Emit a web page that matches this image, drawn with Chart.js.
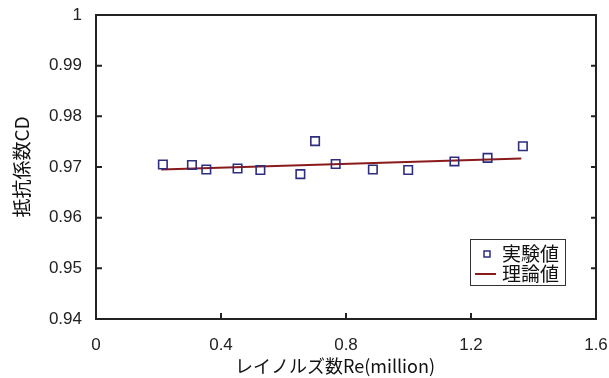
<!DOCTYPE html>
<html>
<head>
<meta charset="utf-8">
<script src="https://cdn.jsdelivr.net/npm/chart.js@4.4.0/dist/chart.umd.min.js"></script>
<style>
  html, body { margin: 0; padding: 0; background: #fff; }
  #wrap { width: 609px; height: 378px; }
</style>
</head>
<body>
<div id="wrap"><canvas id="cdChart" width="609" height="378"></canvas></div>
<script>
// 実験値 (Re in million, CD)
const reynolds = [0.214, 0.307, 0.353, 0.453, 0.526, 0.654, 0.701, 0.767, 0.886, 0.999, 1.147, 1.253, 1.366];
const cdMeasured = [0.9705, 0.9704, 0.9695, 0.9697, 0.9694, 0.9686, 0.9751, 0.9706, 0.9695, 0.9694, 0.9711, 0.9718, 0.9741];

// 理論値
const theoryRe = [0.209, 1.361];
const theoryCd = [0.9695, 0.9717];

const xTicks = [0, 0.4, 0.8, 1.2, 1.6];
const yTicks = [0.94, 0.95, 0.96, 0.97, 0.98, 0.99, 1];

const seriesNames = ['実験値', '理論値'];
const xTitle = 'レイノルズ数Re(million)';
const yTitle = '抵抗係数CD';

const tickFont = { family: '"Liberation Sans", Arial, sans-serif', size: 17 };
const jpFont = '"Noto Sans CJK JP", sans-serif';
const frameColor = '#222';

// frame + inward tick marks
const framePlugin = {
    id: 'frame',
    afterDraw(chart) {
        const { ctx, chartArea: a, scales } = chart;
        ctx.save();
        ctx.strokeStyle = frameColor;
        ctx.lineWidth = 2;
        ctx.strokeRect(a.left, a.top, a.right - a.left, a.bottom - a.top);
        ctx.beginPath();
        xTicks.slice(1, -1).forEach(v => {
            const x = scales.x.getPixelForValue(v);
            ctx.moveTo(x, a.bottom);
            ctx.lineTo(x, a.bottom - 6);
        });
        yTicks.slice(1, -1).forEach(v => {
            const y = scales.y.getPixelForValue(v);
            ctx.moveTo(a.left, y);
            ctx.lineTo(a.left + 6, y);
            ctx.moveTo(a.right, y);
            ctx.lineTo(a.right - 5, y);
        });
        ctx.stroke();

        // x axis title sits a little left of the plot centre
        ctx.fillStyle = '#111';
        ctx.font = '18px ' + jpFont;
        ctx.textAlign = 'center';
        ctx.textBaseline = 'middle';
        ctx.fillText(xTitle, (a.left + a.right) / 2 - 11, 366);
        ctx.restore();
    }
};

// legend box inside the plot
const boxLegend = {
    id: 'boxLegend',
    afterDraw(chart) {
        const { ctx } = chart;
        const ds = chart.data.datasets;
        const bx = 470.5, by = 239.5, bw = 95, bh = 46;
        ctx.save();
        ctx.fillStyle = '#fff';
        ctx.fillRect(bx, by, bw, bh);
        ctx.strokeStyle = '#333';
        ctx.lineWidth = 1;
        ctx.strokeRect(bx, by, bw, bh);

        // marker
        ctx.strokeStyle = ds[0].borderColor;
        ctx.lineWidth = 1.5;
        ctx.strokeRect(484, 251, 6, 6);
        // line
        ctx.strokeStyle = ds[1].borderColor;
        ctx.lineWidth = 2;
        ctx.beginPath();
        ctx.moveTo(475, 274);
        ctx.lineTo(496, 274);
        ctx.stroke();

        ctx.fillStyle = '#111';
        ctx.font = '19px ' + jpFont;
        ctx.textBaseline = 'middle';
        ctx.fillText(ds[0].label, 502, 254);
        ctx.fillText(ds[1].label, 502, 274);
        ctx.restore();
    }
};

new Chart(document.getElementById('cdChart'), {
    type: 'scatter',
    data: {
        datasets: [
            {
                label: seriesNames[0],
                data: reynolds.map((r, i) => ({ x: r, y: cdMeasured[i] })),
                pointStyle: 'rect',
                pointRadius: 6,
                pointHoverRadius: 6,
                pointBorderWidth: 1.6,
                borderColor: '#2e2e7e',
                backgroundColor: 'rgba(255,255,255,0)',
                showLine: false,
                order: 1
            },
            {
                label: seriesNames[1],
                data: theoryRe.map((r, i) => ({ x: r, y: theoryCd[i] })),
                showLine: true,
                borderColor: '#8b1a1a',
                borderWidth: 2,
                pointRadius: 0,
                order: 2
            }
        ]
    },
    options: {
        responsive: false,
        animation: false,
        devicePixelRatio: 1,
        layout: { padding: { top: 15, right: 13, left: 0, bottom: 0 } },
        plugins: {
            legend: { display: false },
            tooltip: { enabled: false }
        },
        scales: {
            x: {
                type: 'linear',
                min: 0,
                max: 1.6,
                afterBuildTicks: s => { s.ticks = xTicks.map(v => ({ value: v })); },
                afterFit: s => {
                    s.height = 59;
                    s.paddingLeft = 0;
                    s.paddingRight = 0;
                },
                grid: { display: false, drawTicks: false },
                border: { display: false },
                ticks: {
                    font: tickFont,
                    color: '#222',
                    padding: 16,
                    maxRotation: 0,
                    callback: v => String(v)
                },
                title: { display: false }
            },
            y: {
                type: 'linear',
                min: 0.94,
                max: 1,
                afterBuildTicks: s => { s.ticks = yTicks.map(v => ({ value: v })); },
                afterFit: s => {
                    s.width = 96;
                    s.paddingTop = 0;
                    s.paddingBottom = 0;
                },
                grid: { display: false, drawTicks: false },
                border: { display: false },
                ticks: {
                    font: tickFont,
                    color: '#222',
                    padding: 14,
                    callback: v => String(+v.toFixed(2))
                },
                title: {
                    display: true,
                    text: yTitle,
                    font: { family: jpFont, size: 19 },
                    color: '#111',
                    padding: { top: 10, bottom: 0 }
                }
            }
        }
    },
    plugins: [framePlugin, boxLegend]
});
</script>
</body>
</html>
